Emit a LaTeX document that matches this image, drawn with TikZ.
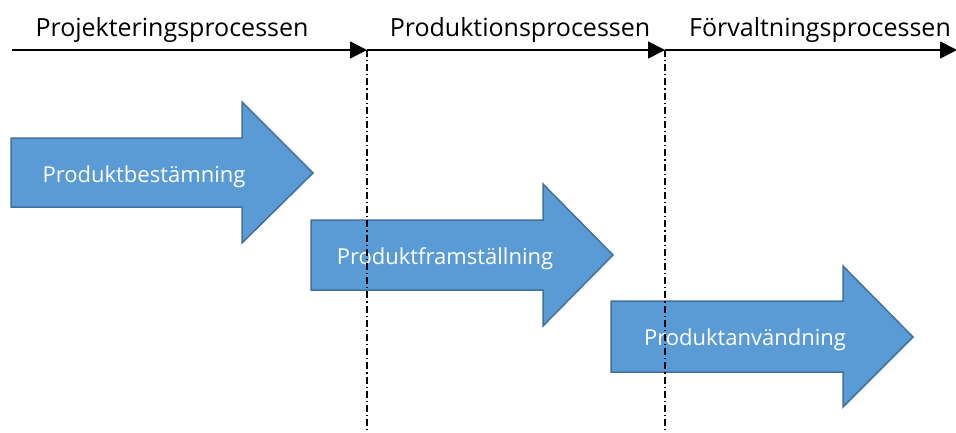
\documentclass[tikz,border=0pt]{standalone}
\usepackage{fontspec}
\setmainfont{Open Sans}
\usetikzlibrary{arrows.meta}
\definecolor{arrfill}{HTML}{5B9BD5}
\definecolor{arrdraw}{HTML}{41719C}
\tikzset{
  phase/.style={line width=1.8pt,-{Triangle[length=17pt,width=17pt]}},
  sep/.style={line width=1.1pt,dash pattern=on 7pt off 3pt on 1.2pt off 3pt},
  bigarrow/.style={fill=arrfill,draw=arrdraw,line width=1.5pt,line join=miter},
  phlabel/.style={font=\fontsize{25}{28}\selectfont,anchor=base,inner sep=0pt},
  arrlabel/.style={font=\fontsize{22}{26}\selectfont,text=white,inner sep=0pt}
}
\begin{document}
\begin{tikzpicture}[x=1pt,y=-1pt]
\useasboundingbox (0,0) rectangle (956,432);
\clip (0,0) rectangle (956,432);
% coordinates of the top timeline
\coordinate (s0) at (12,50);
\coordinate (s1) at (367,50);
\coordinate (s2) at (665,50);
\coordinate (s3) at (957,50);
\coordinate (b1) at (367,432);
\coordinate (b2) at (665,432);
% big arrows
\draw[bigarrow] (11,138) -- (242,138) -- (242,102) -- (313,173) -- (242,243) -- (242,207) -- (11,207) -- cycle;
\node[arrlabel] (a1) at (144,177) {Produktbestämning};
\draw[bigarrow] (311,220) -- (543,220) -- (543,184) -- (613,255) -- (543,326) -- (543,290) -- (311,290) -- cycle;
\node[arrlabel] (a2) at (445,259) {Produktframställning};
\draw[bigarrow] (611,301) -- (843,301) -- (843,266) -- (913,337) -- (843,407) -- (843,372) -- (611,372) -- cycle;
\node[arrlabel] (a3) at (745,340) {Produktanvändning};
% separators
\draw[sep] (s1) -- (b1);
\draw[sep] (s2) -- (b2);
% timeline
\draw[phase] (s0) -- (s1);
\draw[phase] (s1) -- (s2);
\draw[phase] (s2) -- (s3);
\node[phlabel] (p1) at (172,36) {Projekteringsprocessen};
\node[phlabel] (p2) at (520,36) {Produktionsprocessen};
\node[phlabel] (p3) at (820,36) {Förvaltningsprocessen};
\end{tikzpicture}
\end{document}
